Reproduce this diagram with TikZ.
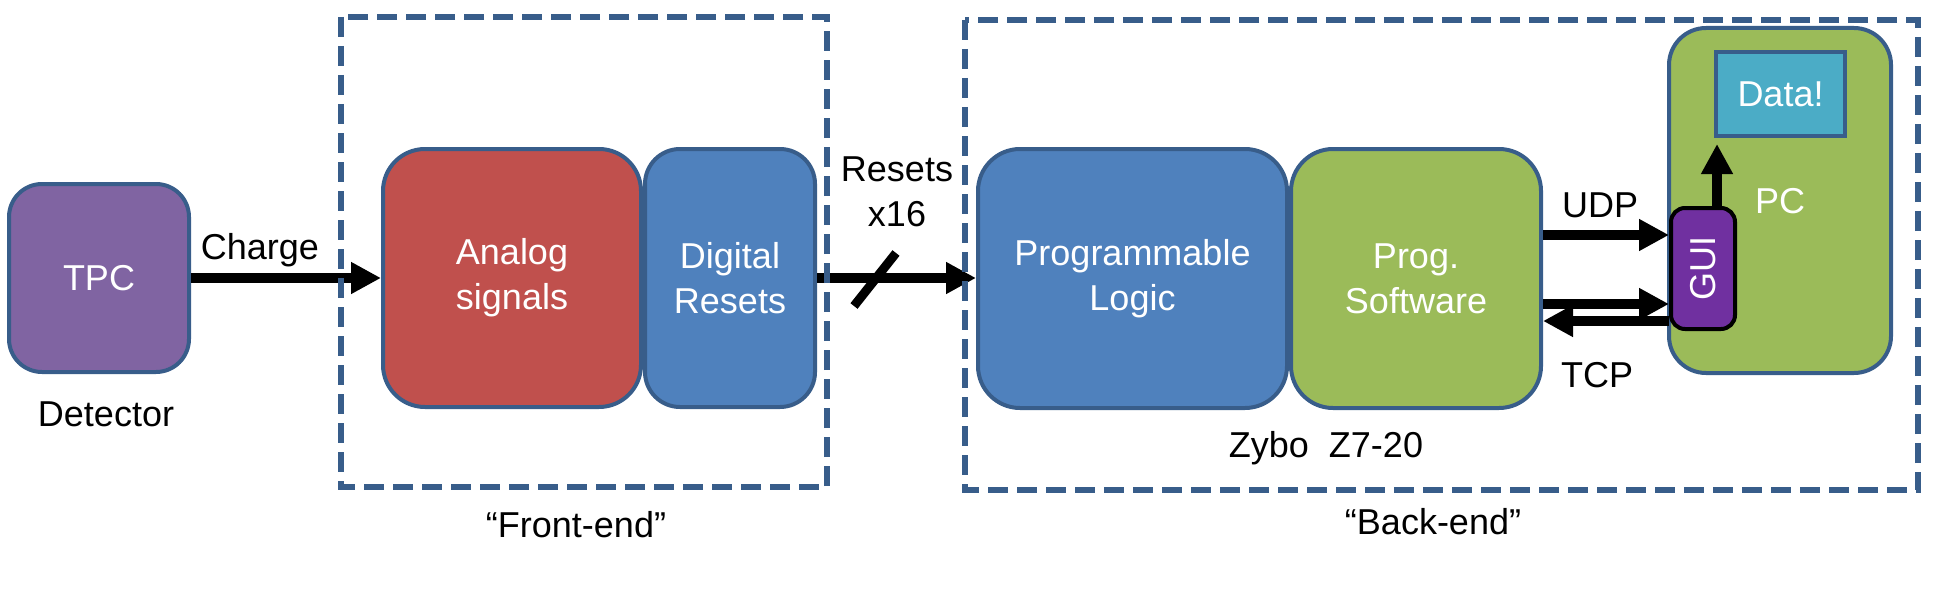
\documentclass[tikz,border=0pt]{standalone}
\usepackage{fontspec}
\setmainfont{Liberation Sans}
\usetikzlibrary{positioning, calc, arrows.meta}
\definecolor{edge}{HTML}{385D8A}
\definecolor{tpcfill}{HTML}{8064A2}
\definecolor{analogfill}{HTML}{C0504D}
\definecolor{digifill}{HTML}{4F81BD}
\definecolor{swfill}{HTML}{9BBB59}
\definecolor{datafill}{HTML}{4BACC6}
\definecolor{guifill}{HTML}{7030A0}
\newcommand{\diagfont}{\fontsize{36}{45}\selectfont}
\tikzstyle{block} = [draw=edge, line width=4pt, rounded corners=42pt, text=white, align=center, inner sep=0pt, font=\diagfont]
\tikzstyle{txt} = [font=\diagfont, inner sep=0pt, align=center]
\tikzstyle{arr} = [line width=10pt, -{Triangle[length=30pt, width=30pt]}]
\tikzstyle{frame} = [draw=edge, line width=6pt, dash pattern=on 20pt off 9pt]

\begin{document}
\begin{tikzpicture}[x=1pt, y=-1pt]
        \useasboundingbox (0,0) rectangle (1942,607);
        % detector
        \node (tpc) [block, fill=tpcfill, minimum width=180pt, minimum height=188pt, rounded corners=33pt] at (99,278) {TPC};
        \node (det) [txt, anchor=base] at (106,426) {Detector};
        % front-end
        \node (analog) [block, fill=analogfill, minimum width=258pt, minimum height=258pt] at (512,278) {Analog\\signals};
        \node (digital) [block, fill=digifill, minimum width=170pt, minimum height=258pt, rounded corners=35pt, right=0pt of analog] {Digital\\Resets};
        % back-end
        \node (logic) [block, fill=digifill, minimum width=309pt, minimum height=259pt] at (1132.5,278.5) {Programmable\\Logic};
        \node (software) [block, fill=swfill, minimum width=250pt, minimum height=259pt, right=0pt of logic] {Prog.\\Software};
        \node (zybo) [txt, anchor=base] at (1326,457) {Zybo\ \ Z7-20};
        \node (pc) [block, fill=swfill, minimum width=222pt, minimum height=345pt, rounded corners=37pt] at (1780,200.5) {};
        \node (data) [draw=edge, line width=4pt, fill=datafill, text=white, font=\diagfont, minimum width=129pt, minimum height=84pt, inner sep=0pt] at (1780.5,94) {Data!};
        \node (gui) [draw=black, line width=4pt, fill=guifill, text=white, font=\diagfont, rounded corners=14pt, minimum width=64pt, minimum height=121pt, inner sep=0pt] at (1703,268.5) {\rotatebox{90}{GUI}};
        \node (pclabel) [txt, text=white, anchor=base] at (1780,213) {PC};
        % links
        \draw [arr] (tpc) -- (analog);
        \node (charge) [txt, anchor=base] at (260,259) {Charge};
        \draw [arr] (digital.east) -- (digital.east -| logic.west);
        \draw [line width=9pt] (854,306) -- (896,253);
        \node (resets) [txt] at (897,192) {Resets\\x16};
        \coordinate (udp) at ($(gui.north west)+(0,29)$);
        \coordinate (tcpin) at ($(gui.north west)+(0,98)$);
        \coordinate (tcpout) at ($(gui.north west)+(0,115)$);
        \draw [arr] (software.east |- udp) -- (udp);
        \draw [arr] (software.east |- tcpin) -- (tcpin);
        \draw [arr] (tcpout) -- (software.east |- tcpout);
        \node (udplabel) [txt, anchor=base] at (1600,217) {UDP};
        \node (tcplabel) [txt, anchor=base] at (1597,387) {TCP};
        \coordinate (guitop) at ($(gui.north)+(14,2)$);
        \draw [arr, shorten >=6pt] (guitop) -- (guitop |- data.south);
        % frames
        \draw [frame] (341,17) rectangle (827,487);
        \draw [frame] (965,20) rectangle (1918,490);
        \node (front) [txt, anchor=base] at (576,537) {“Front-end”};
        \node (back) [txt, anchor=base] at (1433,534) {“Back-end”};
    \end{tikzpicture}
\end{document}
